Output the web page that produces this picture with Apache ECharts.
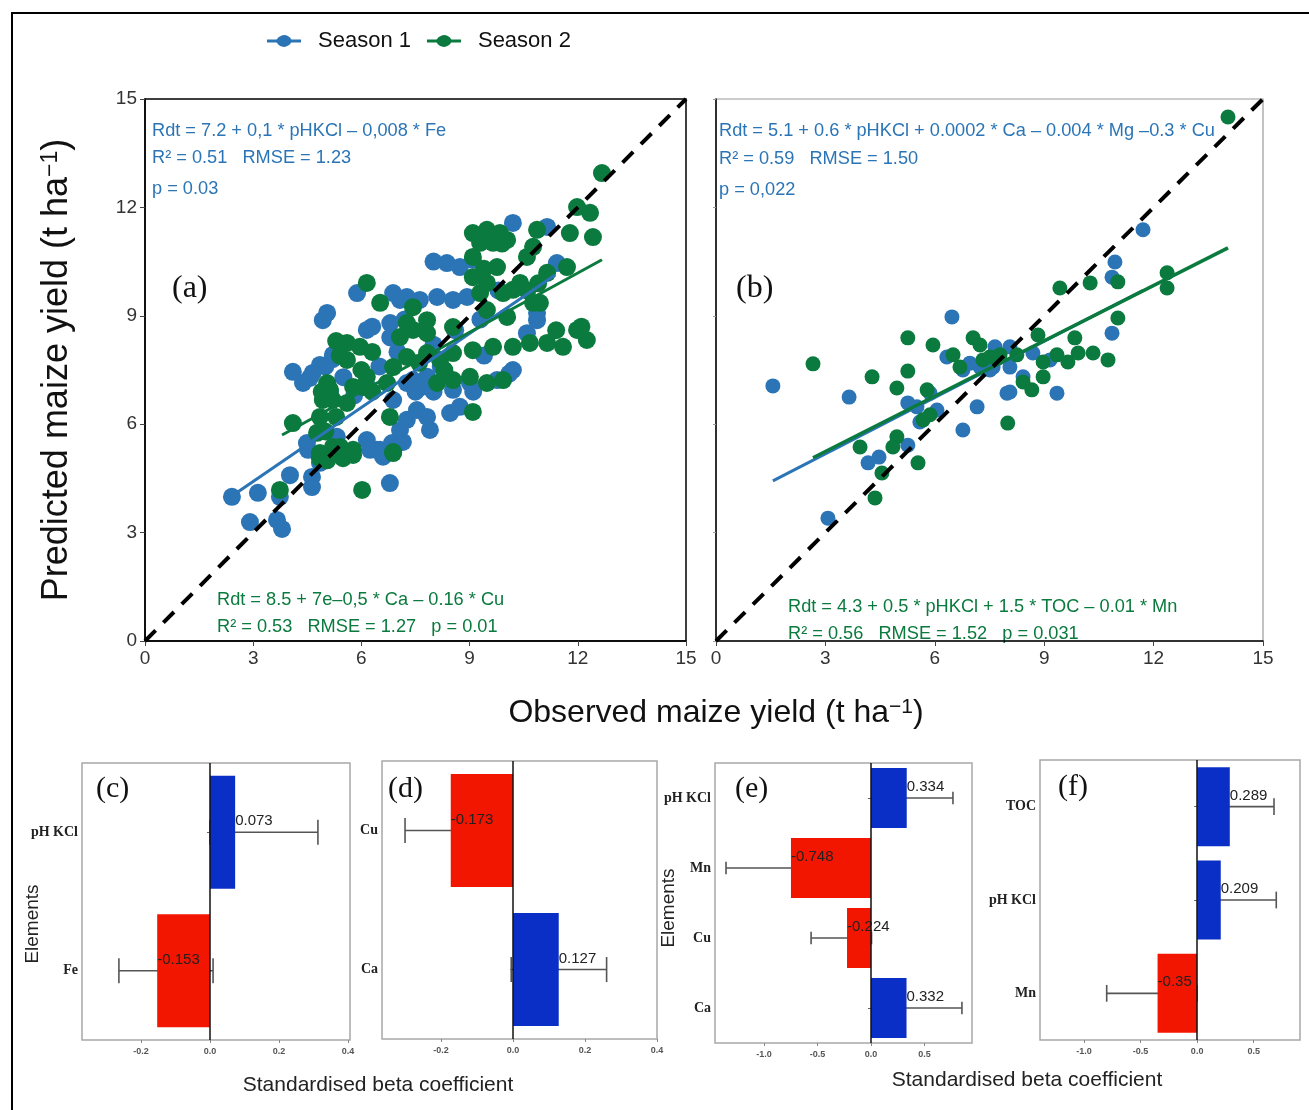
<!DOCTYPE html>
<html>
<head>
<meta charset="utf-8">
<script src="https://cdn.jsdelivr.net/npm/echarts@6/dist/echarts.min.js"></script>
<style>
  html, body { margin: 0; padding: 0; background: #fff; }
  #chart { width: 1309px; height: 1110px; }
</style>
</head>
<body>
<div id="chart"></div>
<script>
// axis range of the scatter panels and the 1:1 line
const yieldTicks = [0, 3, 6, 9, 12, 15]
const identity = [[0, 0], [15, 15]]

// panel (a) observed / predicted
const a1Points = [
  [2.41,3.99],[3.13,4.10],[2.91,3.29],[3.66,3.35],[3.80,3.10],[3.74,3.99],[4.02,4.59],[4.63,4.54],[4.63,4.26],
  [4.52,5.29],[6.79,4.37],[6.52,5.29],[6.85,5.48],[7.15,5.51],[4.85,4.93],[4.10,7.45],[4.57,7.28],[4.85,7.64],
  [5.21,7.92],[5.13,6.89],[6.15,8.61],[6.88,6.67],[7.26,6.12],[7.07,5.84],[7.54,6.39],[7.82,6.20],[7.90,5.84],
  [8.46,6.31],[8.73,6.48],[6.43,5.29],[6.15,5.56],[7.43,7.22],[7.82,7.31],[9.01,7.14],[9.76,7.22],[10.2,7.50],
  [10.59,8.52],[10.87,8.88],[4.93,8.88],[4.49,5.48],[5.32,5.65],[5.05,9.08],[5.88,9.63],[8.37,10.46],[8.73,10.35],
  [9.09,10.55],[10.2,11.57],[11.15,11.46],[11.42,10.46],[7.26,9.52],[7.62,9.44],[8.10,9.52],[8.54,9.44],[8.93,9.52],
  [6.88,9.63],[7.07,9.44],[10.87,9.08],[6.5,7.6],[7.0,8.0],[8.0,8.2],[8.6,8.6],[9.3,8.9],[9.8,9.7],[5.8,6.8],
  [6.2,7.0],[8.2,7.6],[9.4,7.9],[10.4,9.8],[5.5,7.3],[6.8,8.4],[7.6,7.0],[8.0,10.5],[6.3,8.7],[6.8,8.8],
  [7.2,8.9],[5.2,7.8],[5.0,7.6],[4.65,7.42],[4.38,7.14],[7.26,7.14],[7.5,6.9],[8.0,6.9],[10.1,7.4],[8.54,6.95],
  [9.1,6.9],[6.24,5.29],[6.6,5.1]
]
const a2Points = [
  [3.74,4.18],[6.02,4.18],[6.88,5.23],[4.85,5.06],[5.49,5.06],[5.77,5.15],[5.21,5.37],[4.10,6.03],[5.05,7.14],
  [5.21,6.67],[4.93,6.67],[5.13,6.95],[4.85,6.20],[4.77,5.76],[4.85,5.20],[5.60,8.25],[5.96,8.14],[5.60,7.78],
  [6.15,7.31],[6.04,7.03],[6.71,7.14],[6.88,7.58],[7.07,8.41],[7.43,8.61],[7.82,8.52],[7.26,7.86],[8.10,7.14],
  [8.54,7.22],[9.01,7.31],[9.48,7.14],[9.93,7.22],[8.54,7.97],[9.09,8.05],[9.65,8.14],[10.2,8.14],[10.67,8.25],
  [11.15,8.25],[11.59,8.14],[11.98,8.61],[12.25,8.33],[9.09,6.34],[6.79,6.20],[6.88,5.20],[5.41,5.37],[5.77,5.29],
  [7.82,7.97],[8.18,7.78],[5.60,6.59],[5.77,7.03],[7.26,8.80],[8.54,8.69],[6.15,9.91],[9.09,11.29],[9.48,11.38],
  [9.84,11.29],[9.29,11.02],[9.65,11.02],[10.04,11.10],[10.87,11.38],[10.76,10.91],[10.59,10.63],[11.78,11.29],
  [12.42,11.18],[11.98,12.01],[12.34,11.85],[12.67,12.95],[9.09,10.63],[9.09,10.07],[9.48,9.91],[9.76,10.35],
  [9.29,9.63],[9.93,9.63],[10.40,9.91],[10.76,9.36],[10.95,9.36],[11.70,10.35],[11.15,10.19],[7.43,9.24],
  [7.82,8.88],[9.48,9.16],[10.04,8.97],[6.52,9.36],[5.3,8.3],[5.4,7.9],[6.3,8.0],[7.6,7.7],[8.3,7.5],[6.0,7.5],
  [6.3,6.9],[4.9,6.9],[5.3,6.2],[5.0,5.8],[11.4,8.6],[12.1,8.7],[5.05,5.0],[9.3,11.2],[9.9,11.0],[9.4,10.3],
  [10.6,9.7],[10.9,9.9],[10.2,9.72]
]
const a1Fit = [[2.41,4.01],[11.37,10.13]]
const a2Fit = [[3.80,5.70],[12.67,10.55]]

// panel (b)
const b1Points = [
  [1.56,7.06],[3.65,6.75],[6.47,8.97],[3.07,3.40],[4.17,4.93],[4.47,5.09],[5.26,5.42],[5.26,6.59],[5.51,6.48],
  [5.87,6.86],[6.06,6.39],[5.59,6.06],[6.77,5.84],[7.16,6.48],[6.33,7.86],[6.77,7.50],[6.96,7.69],[7.24,7.58],
  [7.51,7.50],[7.65,8.14],[7.70,7.86],[7.98,6.86],[11.71,11.38],[10.94,10.49],[10.86,10.07],[10.86,8.52],
  [8.06,8.14],[8.69,7.97],[9.16,7.78],[8.06,7.58],[7.60,7.58],[8.06,6.89],[9.35,6.86],[8.42,7.31]
]
const b2Points = [
  [2.66,7.67],[4.28,7.31],[5.26,8.39],[5.95,8.19],[5.26,7.47],[4.96,7.00],[5.79,6.95],[3.95,5.37],[4.96,5.65],
  [4.85,5.37],[5.54,4.93],[4.55,4.65],[4.36,3.96],[5.68,6.12],[5.87,6.26],[7.05,8.39],[7.24,8.19],[6.50,7.92],
  [6.69,7.58],[7.32,7.78],[8.00,6.03],[14.04,14.50],[9.43,9.77],[10.26,9.91],[11.02,9.94],[12.37,10.19],
  [12.37,9.77],[11.02,8.94],[8.83,8.47],[9.84,8.39],[9.35,7.92],[8.97,7.72],[9.65,7.72],[9.93,7.97],[10.34,7.97],
  [10.75,7.78],[8.97,7.31],[8.42,7.17],[8.66,6.95],[7.79,7.92],[7.51,7.86],[8.25,7.92]
]
const b1Fit = [[1.56,4.43],[11.7,9.7]]
const b2Fit = [[2.66,5.07],[14.04,10.88]]

// standardised beta coefficients
const cElements = ['pH KCl', 'Fe']
const cBeta = [0.073, -0.153]
const cLow = [0.0, -0.264]
const cHigh = [0.313, 0.009]
const cTicks = [-0.2, 0.0, 0.2, 0.4]

const dElements = ['Cu', 'Ca']
const dBeta = [-0.173, 0.127]
const dLow = [-0.30, -0.005]
const dHigh = [-0.10, 0.26]
const dTicks = [-0.2, 0.0, 0.2, 0.4]

const eElements = ['pH KCl', 'Mn', 'Cu', 'Ca']
const eBeta = [0.334, -0.748, -0.224, 0.332]
const eLow = [0.1, -1.355, -0.56, 0.1]
const eHigh = [0.766, -0.3, 0.005, 0.85]
const eTicks = [-1.0, -0.5, 0.0, 0.5]

const fElements = ['TOC', 'pH KCl', 'Mn']
const fBeta = [0.289, 0.209, -0.35]
const fLow = [0.05, 0.05, -0.80]
const fHigh = [0.68, 0.70, 0.0]
const fTicks = [-1.0, -0.5, 0.0, 0.5]

const BLUE = '#2b75b6'
const GREEN = '#0b7a3e'
const POS = '#0a2fc6'
const NEG = '#f21600'
const SANS = '"Liberation Sans", Arial, sans-serif'
const SERIF = '"Liberation Serif", "Times New Roman", serif'

const legendIcon = 'path://M0,8.3 L10.2,8.3 A9,9 0 0 1 25.8,8.3 L36,8.3 L36,11.7 L25.8,11.7 A9,9 0 0 1 10.2,11.7 L0,11.7 Z'

let myChart = echarts.init(document.getElementById('chart'))

function yieldX(grid, showLabel) {
  return {
    type: 'value', gridIndex: grid, min: 0, max: 15, interval: 3,
    axisLine: { show: true, lineStyle: { color: '#000', width: 1.5 } },
    axisTick: { show: true, length: 5, lineStyle: { color: '#444' } },
    axisLabel: { show: showLabel, fontSize: 19, color: '#333', fontFamily: SANS, margin: 8 },
    splitLine: { show: false },
  }
}

function betaX(grid, min, max, ticks) {
  return {
    type: 'value', gridIndex: grid, min: min, max: max,
    axisLine: { show: false },
    axisTick: { show: true, length: 3, customValues: ticks, lineStyle: { color: '#888' } },
    axisLabel: {
      customValues: ticks, fontSize: 9, fontWeight: 'bold', color: '#555', fontFamily: SANS, margin: 7,
      formatter: (v) => v.toFixed(1),
    },
    splitLine: { show: false },
  }
}

function betaY(grid, cats) {
  return {
    type: 'category', gridIndex: grid, data: cats, inverse: true,
    axisLine: { show: false },
    axisTick: { show: true, length: 3, alignWithLabel: true, lineStyle: { color: '#666' } },
    axisLabel: { fontSize: 14, fontWeight: 'bold', color: '#222', fontFamily: SERIF, margin: 4 },
  }
}

function betaSeries(grid, beta, low, high, barW) {
  return [
    {
      // error bars, under the bars
      type: 'custom', xAxisIndex: grid, yAxisIndex: grid, z: 1,
      encode: { x: [0, 1], y: 2 },
      data: low.map((l, i) => [l, high[i], i]),
      renderItem: (params, api) => {
        const p0 = api.coord([api.value(0), api.value(2)])
        const p1 = api.coord([api.value(1), api.value(2)])
        const h = api.size([0, 1])[1] * 0.09
        const st = { stroke: '#555', lineWidth: 1.6 }
        return {
          type: 'group',
          children: [
            { type: 'line', shape: { x1: p0[0], y1: p0[1], x2: p1[0], y2: p1[1] }, style: st },
            { type: 'line', shape: { x1: p0[0], y1: p0[1] - h, x2: p0[0], y2: p0[1] + h }, style: st },
            { type: 'line', shape: { x1: p1[0], y1: p1[1] - h, x2: p1[0], y2: p1[1] + h }, style: st },
          ],
        }
      },
    },
    {
      type: 'bar', xAxisIndex: grid, yAxisIndex: grid, z: 2, barWidth: barW,
      data: beta.map((v) => ({ value: v, itemStyle: { color: v >= 0 ? POS : NEG } })),
      markLine: {
        silent: true, symbol: 'none', label: { show: false },
        lineStyle: { color: '#111', type: 'solid', width: 1.5 },
        data: [{ xAxis: 0 }],
      },
    },
    {
      // value labels start at the end of each bar
      type: 'custom', xAxisIndex: grid, yAxisIndex: grid, z: 3,
      encode: { x: 0, y: 1 },
      data: beta.map((v, i) => [v, i]),
      renderItem: (params, api) => {
        const p = api.coord([api.value(0), api.value(1)])
        return {
          type: 'text', x: p[0], y: p[1] - 11,
          style: {
            text: String(beta[params.dataIndex]), fill: '#222', fontSize: 15, fontFamily: SANS,
            textAlign: 'left', textVerticalAlign: 'middle',
          },
        }
      },
    },
  ]
}

function note(x, y, text, color) {
  return {
    type: 'text', x: x, y: y,
    style: { text: text, fill: color, fontSize: 18.2, fontFamily: SANS, textVerticalAlign: 'middle' },
  }
}

function panelTag(x, y, text, size) {
  return {
    type: 'text', x: x, y: y,
    style: { text: text, fill: '#111', fontSize: size, fontFamily: SERIF, textVerticalAlign: 'middle' },
  }
}

function axisTitle(x, y, rot, size, supSize) {
  return {
    type: 'text', x: x, y: y, rotation: rot,
    style: {
      text: (rot ? 'Predicted' : 'Observed') + ' maize yield (t ha{sup|\u22121})',
      fill: '#111', fontSize: size, fontFamily: SANS, textAlign: 'center', textVerticalAlign: 'middle',
      rich: { sup: { fontSize: supSize, fontFamily: SANS, fill: '#111', verticalAlign: 'top' } },
    },
  }
}

myChart.setOption({
  animation: false,
  legend: {
    left: 262, top: 25, itemWidth: 34, itemHeight: 19, itemGap: 16,
    textStyle: { fontSize: 22, color: '#111', fontFamily: SANS, padding: [0, 0, 0, 12] },
    data: [{ name: 'Season 1', icon: legendIcon }, { name: 'Season 2', icon: legendIcon }],
  },
  grid: [
    { left: 145, top: 99, width: 541, height: 542, show: true, borderColor: '#000', borderWidth: 1.5 },
    { left: 716, top: 99, width: 547, height: 542, show: true, borderColor: '#999', borderWidth: 1.2 },
    { left: 82, top: 763, width: 268, height: 277, show: true, borderColor: '#a8a8a8', borderWidth: 1.5 },
    { left: 382, top: 761, width: 275, height: 278, show: true, borderColor: '#a8a8a8', borderWidth: 1.5 },
    { left: 715, top: 763, width: 257, height: 280, show: true, borderColor: '#a8a8a8', borderWidth: 1.5 },
    { left: 1040, top: 760, width: 260, height: 280, show: true, borderColor: '#a8a8a8', borderWidth: 1.5 },
  ],
  xAxis: [
    yieldX(0, true),
    yieldX(1, true),
    betaX(2, -0.371, 0.406, cTicks),
    betaX(3, -0.364, 0.4, dTicks),
    betaX(4, -1.458, 0.944, eTicks),
    betaX(5, -1.39, 0.91, fTicks),
  ],
  yAxis: [
    yieldX(0, true),
    Object.assign(yieldX(1, false), { axisTick: { show: true, length: 3, lineStyle: { color: '#999' } } }),
    betaY(2, cElements),
    betaY(3, dElements),
    betaY(4, eElements),
    betaY(5, fElements),
  ],
  series: [
    { name: 'Season 1', type: 'scatter', xAxisIndex: 0, yAxisIndex: 0, symbolSize: 18, itemStyle: { color: BLUE, opacity: 1 }, data: a1Points },
    { name: 'Season 2', type: 'scatter', xAxisIndex: 0, yAxisIndex: 0, symbolSize: 18, itemStyle: { color: GREEN, opacity: 1 }, data: a2Points },
    { name: 'Season 1', type: 'scatter', xAxisIndex: 1, yAxisIndex: 1, symbolSize: 15, itemStyle: { color: BLUE, opacity: 1 }, data: b1Points },
    { name: 'Season 2', type: 'scatter', xAxisIndex: 1, yAxisIndex: 1, symbolSize: 15, itemStyle: { color: GREEN, opacity: 1 }, data: b2Points },
    { name: 'Season 1', type: 'line', xAxisIndex: 0, yAxisIndex: 0, showSymbol: false, lineStyle: { color: BLUE, width: 3 }, data: a1Fit },
    { name: 'Season 2', type: 'line', xAxisIndex: 0, yAxisIndex: 0, showSymbol: false, lineStyle: { color: GREEN, width: 3 }, data: a2Fit },
    { name: 'Season 1', type: 'line', xAxisIndex: 1, yAxisIndex: 1, showSymbol: false, lineStyle: { color: BLUE, width: 3 }, data: b1Fit },
    { name: 'Season 2', type: 'line', xAxisIndex: 1, yAxisIndex: 1, showSymbol: false, lineStyle: { color: GREEN, width: 3.5 }, data: b2Fit },
    { type: 'line', xAxisIndex: 0, yAxisIndex: 0, showSymbol: false, z: 5, lineStyle: { color: '#000', width: 4, type: [15, 11] }, data: identity },
    { type: 'line', xAxisIndex: 1, yAxisIndex: 1, showSymbol: false, z: 5, lineStyle: { color: '#000', width: 4, type: [15, 11] }, data: identity },
    ...betaSeries(2, cBeta, cLow, cHigh, 113),
    ...betaSeries(3, dBeta, dLow, dHigh, 113),
    ...betaSeries(4, eBeta, eLow, eHigh, 60),
    ...betaSeries(5, fBeta, fLow, fHigh, 79),
  ],
  graphic: [
    { type: 'rect', shape: { x: 12, y: 13, width: 1310, height: 1110 }, style: { fill: 'none', stroke: '#000', lineWidth: 2 } },
    axisTitle(57, 370, Math.PI / 2, 36, 23),
    axisTitle(716, 713, 0, 32, 21),
    note(152, 131, 'Rdt = 7.2 + 0,1 * pHKCl \u2013 0,008 * Fe', BLUE),
    note(152, 158, 'R\u00B2 = 0.51   RMSE = 1.23', BLUE),
    note(152, 189, 'p = 0.03', BLUE),
    note(217, 600, 'Rdt = 8.5 + 7e\u20130,5 * Ca \u2013 0.16 * Cu', GREEN),
    note(217, 627, 'R\u00B2 = 0.53   RMSE = 1.27   p = 0.01', GREEN),
    note(719, 131, 'Rdt = 5.1 + 0.6 * pHKCl + 0.0002 * Ca \u2013 0.004 * Mg \u20130.3 * Cu', BLUE),
    note(719, 159, 'R\u00B2 = 0.59   RMSE = 1.50', BLUE),
    note(719, 190, 'p = 0,022', BLUE),
    note(788, 607, 'Rdt = 4.3 + 0.5 * pHKCl + 1.5 * TOC \u2013 0.01 * Mn', GREEN),
    note(788, 634, 'R\u00B2 = 0.56   RMSE = 1.52   p = 0.031', GREEN),
    panelTag(172, 289, '(a)', 32),
    panelTag(736, 289, '(b)', 32),
    panelTag(96, 789, '(c)', 30),
    panelTag(388, 789, '(d)', 30),
    panelTag(735, 789, '(e)', 30),
    panelTag(1058, 787, '(f)', 30),
    {
      type: 'text', x: 33, y: 924, rotation: Math.PI / 2,
      style: { text: 'Elements', fill: '#222', fontSize: 19, fontFamily: SANS, textAlign: 'center', textVerticalAlign: 'middle' },
    },
    {
      type: 'text', x: 669, y: 908, rotation: Math.PI / 2,
      style: { text: 'Elements', fill: '#222', fontSize: 19, fontFamily: SANS, textAlign: 'center', textVerticalAlign: 'middle' },
    },
    {
      type: 'text', x: 378, y: 1085,
      style: { text: 'Standardised beta coefficient', fill: '#222', fontSize: 21, fontFamily: SANS, textAlign: 'center', textVerticalAlign: 'middle' },
    },
    {
      type: 'text', x: 1027, y: 1080,
      style: { text: 'Standardised beta coefficient', fill: '#222', fontSize: 21, fontFamily: SANS, textAlign: 'center', textVerticalAlign: 'middle' },
    },
  ],
})
</script>
</body>
</html>
